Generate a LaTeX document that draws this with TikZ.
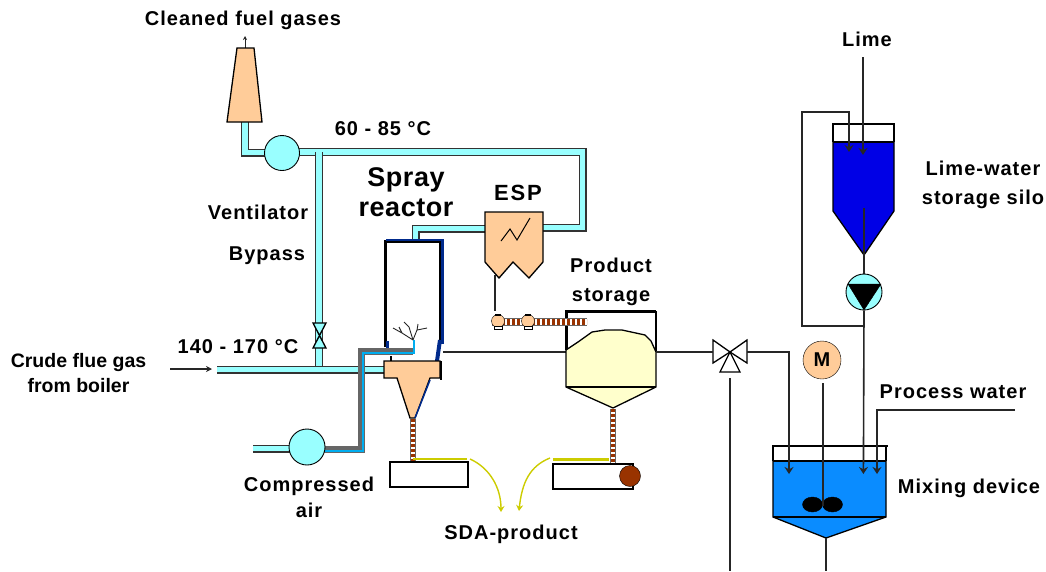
\documentclass[tikz,border=0pt]{standalone}
\usepackage{fontspec}
\setmainfont[LetterSpace=5]{Liberation Sans}
\newfontfamily\plainf{Liberation Sans}
\newfontfamily\sprayf[LetterSpace=2]{Liberation Sans}
\newfontfamily\espf[LetterSpace=8]{Liberation Sans}
\usetikzlibrary{arrows.meta,calc}
\definecolor{peach}{HTML}{FFCC99}
\definecolor{ductc}{HTML}{99FFFF}
\definecolor{cream}{HTML}{FFFFCC}
\definecolor{silob}{HTML}{0000E6}
\definecolor{mixb}{HTML}{0A8CFF}
\definecolor{darkb}{HTML}{002A8C}
\definecolor{olive}{HTML}{CCCC00}
\definecolor{rust}{HTML}{993300}
\tikzset{
  lbl/.style={font=\bfseries\fontsize{20}{#1}\selectfont,text=black,inner sep=0pt,align=center},
  lbl/.default=25,
  duct/.style={draw=black!80,line width=8pt,line join=miter,postaction={draw=ductc,line width=5.2pt}},
  pipe/.style={draw=black!85,line width=1.6pt},
  arr/.style={pipe,-{Stealth[length=7pt,width=9pt]}},
  fan/.style={circle,draw=black,fill=ductc,minimum size=#1,inner sep=0pt,line width=.9pt},
  shell/.style={draw=black,line width=1.3pt},
  chute/.style={draw=black!60,line width=#1,postaction={draw=white,line width=#1-2pt},
     postaction={draw=rust,line width=#1-2pt,dash pattern=on 2.5pt off 2.5pt}},
  chute/.default=6pt,
  box/.style={draw=black,fill=white,line width=1.3pt},
  prod/.style={draw=olive,line width=1.4pt,-{Stealth[length=6pt,width=7pt]}},
}
\begin{document}
\begin{tikzpicture}[x=1pt,y=-1pt]
\useasboundingbox (0,0) rectangle (1046,571);

% ---- stack and upper ducts
\coordinate (stackTop) at (245,48);
\coordinate (stackOut) at (245,36);
\draw[pipe,line width=1pt,-{Stealth[length=4pt,width=4pt]}] (stackTop) -- (stackOut);
\draw[duct] (245,122) -- (245,152.5) -- (283,152.5);
\draw[duct] (283,152) -- (582.5,152) -- (582.5,227.5) -- (515,227.5);
\draw[duct] (319,152) -- (319,369);
\draw[duct] (514,228.5) -- (415.5,228.5) -- (415.5,243);
\draw[shell,fill=peach] (237,48) -- (254,48) -- (262,122) -- (227,122) -- cycle;
\node[fan=35pt] (fanA) at (282,153) {};

% ---- flue duct
\draw[duct] (217,369.5) -- (386,369.5);

% ---- bypass valve
\draw[shell,fill=ductc] (313,323) -- (326,323) -- (313,348) -- (326,348) -- cycle;

% ---- reactor
\fill[white] (385,241) rectangle (442,347);
\draw[black,line width=3pt] (385.5,347) -- (385.5,241.5) -- (440,241.5) -- (440,344);
\draw[darkb,line width=2.2pt] (386,240) -- (442.5,240) -- (442.5,344);
\draw[darkb,line width=3pt] (387,341) -- (387,348);
\draw[darkb,line width=4pt] (440,340) -- (437,361);
\draw[pipe] (443,352) -- (566,352);

% ---- ESP
\draw[shell,fill=peach] (485,212) -- (543,212) -- (543,262) -- (529,278) -- (513,262) -- (499,278) -- (485,262) -- cycle;
\draw[black,line width=1pt] (501,241) -- (510,229) -- (517,240) -- (530,218);
\draw[pipe] (495,275) -- (495,311);

% ---- hopper
\draw[shell,fill=peach] (384,361) -- (440,361) -- (440,378) -- (430,378) -- (415,418) -- (410,418) -- (397,378) -- (384,378) -- cycle;
\draw[darkb,line width=1.5pt] (430,380) -- (415,418);
\draw[black,line width=1.3pt] (441,361) -- (441,380);
\draw[black,line width=2pt] (391,356) -- (391,361);
\draw[chute] (412.5,419) -- (412.5,462);

% ---- compressed air line
\draw[draw=black!60,line width=7pt,line join=miter] (322,449.5) -- (361.5,449.5) -- (361.5,351.5) -- (413,351.5);
\draw[draw=cyan,line width=2.4pt,line join=miter] (325,451) -- (363,451) -- (363,353) -- (414,353) -- (414,340);
\draw[duct] (253,448.5) -- (295,448.5);
\node[fan=36pt] (fanB) at (307,447) {};

% ---- spray
\coordinate (spray) at (413,340);
\draw[black!85,line width=.9pt]
  (spray) -- (402,333) -- (393,328) (402,333) -- (399,327)
  (spray) -- (409,327) -- (404,322)
  (spray) -- (417,330) -- (418,324) (417,330) -- (427,328);

% ---- collecting boxes
\draw[box] (390,462) rectangle (468,487);
\draw[box] (553,464) rectangle (633,489);
\node[circle,draw=black,fill=rust,minimum size=21pt,inner sep=0pt] (motorB) at (630,476) {};

% ---- product flow
\draw[draw=olive,line width=1.4pt] (413,459) -- (467,459);
\draw[prod] (470,459) .. controls (490,468) and (501,488) .. (501,512);
\draw[draw=olive,line width=2.8pt] (553,459.5) -- (609,459.5);
\draw[prod] (550,458) .. controls (530,466) and (522,482) .. (519,511);

% ---- storage
\draw[black,line width=2.2pt] (566.5,350) -- (566.5,311.5) -- (656,311.5);
\draw[black,line width=1.3pt] (656,311) -- (656,352);
\draw[shell,fill=cream] (566,350) -- (578,342) -- (592,332) -- (605,330) -- (622,330) -- (645,335) -- (651,341) -- (656,352) -- (656,387) -- (613,408) -- (566,387) -- cycle;
\draw[shell] (566,387) -- (656,387);
\draw[chute] (613,409) -- (613,463);

% ---- screw
\draw[chute=8pt] (492,322) -- (587,322);
\foreach \n/\x in {scrA/498,scrB/528}{
  \node[circle,draw=black,fill=peach,minimum size=13pt,inner sep=0pt] (\n) at (\x,321) {};
  \draw[black,line width=2pt] (\x-3,314.5) -- (\x+3,314.5);
  \draw[black,fill=white,line width=1pt] (\x-4,326.5) rectangle (\x+4,329.5);
}

% ---- mixer
\draw[draw=black,fill=mixb,line width=1.3pt] (773,461) -- (886,461) -- (886,517) -- (826,538) -- (773,517) -- cycle;
\draw[black,line width=1.5pt] (773,461) -- (773,446) -- (888,446);
\draw[black,line width=1.5pt] (886,446) -- (886,461);
\draw[black,line width=2pt] (773,461) -- (886,461) (773,517) -- (886,517);
\draw[fill=black] (812.5,504.5) ellipse (10pt and 7.5pt);
\draw[fill=black] (832.5,504.5) ellipse (10pt and 7.5pt);
\node[circle,draw=black,fill=peach,minimum size=38pt,inner sep=0pt,font=\plainf\bfseries\fontsize{20}{22}\selectfont] (motorM) at (822,360) {M};
\draw[pipe] (823,383) -- (823,506);
\draw[pipe] (826,538) -- (826,571);

% ---- three-way valve
\coordinate (vc) at (730,352);
\draw[shell,fill=white] (vc) -- (713,340) -- (713,363) -- cycle;
\draw[shell,fill=white] (vc) -- (747,340) -- (747,363) -- cycle;
\draw[shell,fill=white] (vc) -- (740,372) -- (720,372) -- cycle;
\draw[pipe] (656,352) -- (713,352);
\draw[pipe] (730,378) -- (730,571);
\draw[arr] (747,352) -- (789,352) -- (789,474);

% ---- silo
\draw[draw=black,fill=silob,line width=1.3pt] (833,142) -- (894,142) -- (894,211) -- (864,255) -- (833,211) -- cycle;
\draw[black,line width=1.5pt] (833,142) -- (833,124) -- (894,124) -- (894,142);
\draw[black,line width=2.8pt] (833,142) -- (894,142);
\coordinate (limeIn) at (863,57);
\draw[arr] (limeIn) -- (863,155);
\draw[arr] (864,326) -- (802,326) -- (802,112) -- (849,112) -- (849,152);
\draw[pipe] (864,208) -- (864,275);
\node[fan=36pt] (pump) at (864,292) {};
\draw[fill=black] (848,284) -- (881,284) -- (864,310) -- cycle;
\draw[arr] (pump.south) -- (863.4,474);
\draw[arr] (1015,410) -- (877,410) -- (877,474);

% ---- labels
\node[lbl] (tClean) at (243,20) {Cleaned fuel gases};
\node[lbl] (t60) at (383,129) {60 - 85 °C};
\node[lbl=29,font=\sprayf\bfseries\fontsize{27}{30}\selectfont] (tSpray) at (406,192) {Spray\\reactor};
\node[lbl,font=\espf\bfseries\fontsize{22}{24}\selectfont] (tESP) at (518,193) {ESP};
\node[lbl] (tVent) at (258,212) {Ventilator};
\node[lbl] (tBy) at (267,256) {Bypass};
\node[lbl=29] (tProd) at (611,282) {Product\\storage};
\node[lbl] (t140) at (238,347) {140 - 170 °C};
\node[lbl,font=\plainf\bfseries\fontsize{19.5}{25}\selectfont] (tCrude) at (78.5,373) {Crude flue gas\\from boiler};
\node[lbl=26] (tAir) at (309,497) {Compressed\\air};
\node[lbl] (tSDA) at (511,534) {SDA-product};
\node[lbl] (tLime) at (867,39) {Lime};
\node[lbl=29] (tSilo) at (983,185) {Lime-water\\storage silo};
\node[lbl] (tWater) at (953,392) {Process water};
\node[lbl] (tMix) at (969,488) {Mixing device};
\coordinate (cfStart) at (170,369);
\draw[pipe,line width=1.1pt,-{Stealth[length=6pt,width=6pt]}] (cfStart) -- (212,369);
\end{tikzpicture}
\end{document}
